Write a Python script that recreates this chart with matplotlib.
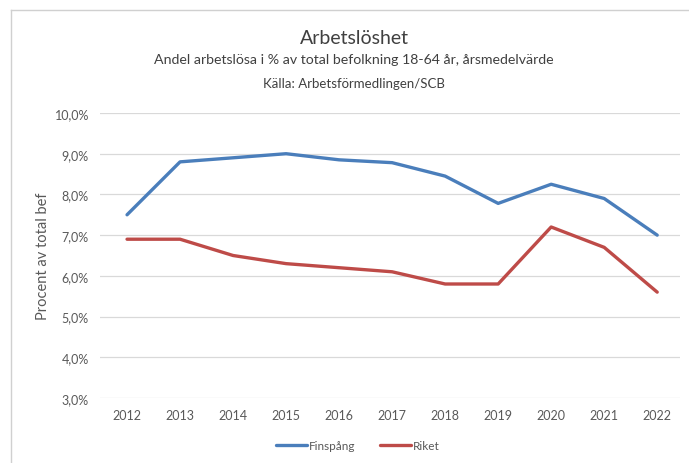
import numpy as np
import matplotlib.pyplot as plt
from matplotlib.lines import Line2D
from matplotlib.ticker import FuncFormatter

plt.rcParams['font.family'] = ['Lato', 'DejaVu Sans']

years = [2012, 2013, 2014, 2015, 2016, 2017, 2018, 2019, 2020, 2021, 2022]
finspang = [7.5, 8.8, 8.9, 9.0, 8.85, 8.78, 8.45, 7.78, 8.25, 7.9, 7.0]
riket = [6.9, 6.9, 6.5, 6.3, 6.2, 6.1, 5.8, 5.8, 7.2, 6.7, 5.6]

fig = plt.figure(figsize=(6.89, 4.64), dpi=100)
ax = fig.add_axes([100/689, 1 - 399/464, 580/689, 285/464])

x = np.arange(len(years))
ax.plot(x, finspang, color='#4a7ebb', lw=2.4, label='Finspång', solid_capstyle='round')
ax.plot(x, riket, color='#be4b48', lw=2.4, label='Riket', solid_capstyle='round')

ax.set_xlim(-0.51, len(years) - 1 + 0.43)
ax.set_ylim(3, 10)
ax.set_yticks(np.arange(3, 10.5, 1))
ax.yaxis.set_major_formatter(FuncFormatter(lambda v, p: f"{v:.1f}%".replace('.', ',')))
ax.set_xticks(x)
ax.set_xticklabels([str(y) for y in years])
ax.grid(axis='y', color='#d9d9d9', lw=0.9)
ax.set_axisbelow(True)
for s in ax.spines.values():
    s.set_visible(False)
ax.tick_params(length=0, labelsize=9, colors='#595959', pad=8)
ax.set_ylabel('Procent av total bef', fontsize=10.5, color='#595959', labelpad=3)

cx = 354 / 689
fig.text(cx, 1 - 38/464, 'Arbetslöshet', ha='center', va='center', fontsize=14, color='#404040')
fig.text(cx, 1 - 60/464, 'Andel arbetslösa i % av total befolkning 18-64 år, årsmedelvärde',
         ha='center', va='center', fontsize=10.2, color='#404040')
fig.text(cx, 1 - 84/464, 'Källa: Arbetsförmedlingen/SCB', ha='center', va='center',
         fontsize=9.5, color='#404040')

leg = fig.legend(loc='center', bbox_to_anchor=(358/689, 1 - 447/464), ncol=2, frameon=False,
                 fontsize=8.5, handlelength=2.6, handletextpad=0.2, columnspacing=2.1)
for t in leg.get_texts():
    t.set_color('#595959')

fig.add_artist(Line2D([11/689, 1], [1 - 11/464, 1 - 11/464], color='#d0d0d0', lw=1))
fig.add_artist(Line2D([11/689, 11/689], [0, 1 - 11/464], color='#d0d0d0', lw=1))

fig.savefig('out.png', dpi=100)
